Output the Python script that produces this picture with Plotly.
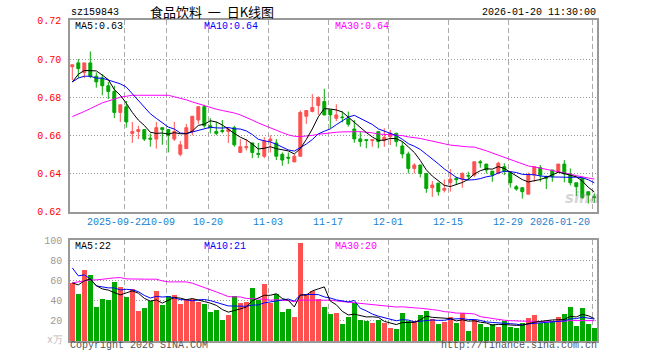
import plotly.graph_objects as go

# ---------------- data ----------------
dates = [
    "2025-09-09", "2025-09-10", "2025-09-11", "2025-09-12", "2025-09-15", "2025-09-16", "2025-09-17",
    "2025-09-18", "2025-09-19", "2025-09-22", "2025-09-23", "2025-09-24", "2025-09-25", "2025-09-26",
    "2025-09-29", "2025-09-30",
    "2025-10-09", "2025-10-10", "2025-10-13", "2025-10-14", "2025-10-15", "2025-10-16", "2025-10-17",
    "2025-10-20", "2025-10-21", "2025-10-22", "2025-10-23", "2025-10-24", "2025-10-27", "2025-10-28",
    "2025-10-29", "2025-10-30", "2025-10-31",
    "2025-11-03", "2025-11-04", "2025-11-05", "2025-11-06", "2025-11-07", "2025-11-10", "2025-11-11",
    "2025-11-12", "2025-11-13", "2025-11-14", "2025-11-17", "2025-11-18", "2025-11-19", "2025-11-20",
    "2025-11-21", "2025-11-24", "2025-11-25", "2025-11-26", "2025-11-27", "2025-11-28",
    "2025-12-01", "2025-12-02", "2025-12-03", "2025-12-04", "2025-12-05", "2025-12-08", "2025-12-09",
    "2025-12-10", "2025-12-11", "2025-12-12", "2025-12-15", "2025-12-16", "2025-12-17", "2025-12-18",
    "2025-12-19", "2025-12-22", "2025-12-23", "2025-12-24", "2025-12-25", "2025-12-26", "2025-12-29",
    "2025-12-30", "2025-12-31",
    "2026-01-05", "2026-01-06", "2026-01-07", "2026-01-08", "2026-01-09", "2026-01-12", "2026-01-13",
    "2026-01-14", "2026-01-15", "2026-01-16", "2026-01-19", "2026-01-20",
]

opens = [0.696, 0.698, 0.693, 0.698, 0.691, 0.690, 0.686, 0.683, 0.672, 0.675,
         0.661, 0.662, 0.663, 0.6585, 0.658, 0.664, 0.663, 0.658, 0.650, 0.653,
         0.662, 0.668, 0.675, 0.665, 0.662, 0.6625, 0.662, 0.664, 0.651, 0.6535,
         0.656, 0.6505, 0.649, 0.657, 0.656, 0.650, 0.6485, 0.646, 0.649, 0.670,
         0.6725, 0.6756, 0.6777, 0.6733, 0.6689, 0.6696, 0.6686, 0.6633, 0.6581, 0.6577,
         0.6572, 0.6619, 0.6572, 0.6593, 0.6611, 0.6544, 0.6502, 0.6426, 0.6444, 0.640,
         0.6325, 0.6349, 0.6312, 0.6351, 0.6374, 0.637, 0.6389, 0.6391, 0.6461, 0.6449,
         0.6412, 0.640, 0.6435, 0.6404, 0.633, 0.6325, 0.6291, 0.6391, 0.643, 0.6383,
         0.6418, 0.6409, 0.6449, 0.6397, 0.6351, 0.6374, 0.6304, 0.6277]
highs = [0.697, 0.700, 0.698, 0.704, 0.693, 0.692, 0.688, 0.686, 0.676, 0.678,
         0.667, 0.665, 0.663, 0.661, 0.667, 0.664, 0.663, 0.667, 0.657, 0.666,
         0.670, 0.675, 0.676, 0.669, 0.667, 0.668, 0.664, 0.665, 0.658, 0.658,
         0.656, 0.656, 0.659, 0.660, 0.658, 0.651, 0.651, 0.650, 0.673, 0.673,
         0.6816, 0.6804, 0.6844, 0.6733, 0.6763, 0.6725, 0.6725, 0.668, 0.6619, 0.658,
         0.658, 0.6619, 0.6637, 0.6628, 0.6611, 0.6567, 0.6514, 0.6453, 0.6444, 0.640,
         0.636, 0.6349, 0.6368, 0.6423, 0.6382, 0.6405, 0.6409, 0.6461, 0.647, 0.6449,
         0.6412, 0.6461, 0.6453, 0.6404, 0.6339, 0.6325, 0.6404, 0.6435, 0.6444, 0.6388,
         0.6418, 0.6449, 0.647, 0.6426, 0.6351, 0.6374, 0.6304, 0.6295]
lows = [0.689, 0.690, 0.690, 0.690, 0.685, 0.681, 0.679, 0.669, 0.667, 0.664,
        0.656, 0.658, 0.657, 0.654, 0.653, 0.655, 0.651, 0.657, 0.649, 0.653,
        0.660, 0.666, 0.664, 0.661, 0.660, 0.661, 0.656, 0.654, 0.651, 0.652,
        0.648, 0.648, 0.648, 0.651, 0.647, 0.644, 0.645, 0.646, 0.649, 0.666,
        0.672, 0.6707, 0.6704, 0.6637, 0.6675, 0.6668, 0.6646, 0.6561, 0.654, 0.6532,
        0.654, 0.6532, 0.654, 0.6549, 0.654, 0.6479, 0.640, 0.640, 0.6379, 0.6298,
        0.6277, 0.6283, 0.630, 0.6304, 0.6339, 0.6325, 0.6365, 0.6382, 0.643, 0.640,
        0.6356, 0.6395, 0.6391, 0.6325, 0.6309, 0.6268, 0.6291, 0.6356, 0.6356, 0.6318,
        0.6356, 0.6404, 0.6353, 0.6337, 0.6281, 0.6268, 0.6242, 0.6246]
closes = [0.697, 0.695, 0.698, 0.691, 0.688, 0.686, 0.683, 0.672, 0.676, 0.667,
          0.662, 0.663, 0.658, 0.658, 0.664, 0.663, 0.660, 0.662, 0.655, 0.664,
          0.670, 0.675, 0.665, 0.664, 0.661, 0.662, 0.663, 0.655, 0.654, 0.654,
          0.651, 0.650, 0.657, 0.658, 0.649, 0.647, 0.648, 0.649, 0.672, 0.673,
          0.6746, 0.6798, 0.6707, 0.6707, 0.6707, 0.6693, 0.6658, 0.6581, 0.6567, 0.6573,
          0.6577, 0.6567, 0.659, 0.6611, 0.6567, 0.6502, 0.6426, 0.6444, 0.640, 0.6321,
          0.6339, 0.6304, 0.6321, 0.637, 0.6367, 0.640, 0.6386, 0.6461, 0.6456, 0.6418,
          0.6391, 0.6453, 0.6412, 0.6351, 0.6318, 0.6304, 0.6391, 0.6435, 0.6391, 0.6374,
          0.6383, 0.6449, 0.6397, 0.6351, 0.633, 0.6272, 0.6286, 0.6274]
volumes = [58, 47, 71, 66, 34, 42, 41, 59, 54, 44,
           52, 30, 33, 40, 50, 36, 45, 46, 37, 42,
           42, 39, 37, 29, 31, 21, 26, 45, 38, 39,
           53, 41, 57, 38, 47, 29, 32, 24, 98, 46,
           50, 42, 34, 27, 28, 17, 24, 38, 21, 20,
           18, 21, 18, 13, 12, 28, 20, 20, 26, 30,
           22, 17, 19, 24, 18, 28, 10, 21, 17, 14,
           17, 14, 20, 14, 13, 18, 23, 26, 18, 18,
           20, 24, 27, 34, 15, 33, 17, 13]

# moving-average values before enough history is visible
ma5_head = [0.688, 0.692, 0.694, 0.694]
ma10_head = [0.688, 0.690, 0.691, 0.691, 0.690, 0.690, 0.689, 0.688, 0.687]
ma30_head = [0.6698, 0.671, 0.6725, 0.674, 0.6755, 0.677, 0.678, 0.679, 0.680, 0.6805,
             0.681, 0.681, 0.681, 0.681, 0.681, 0.681, 0.681, 0.6802, 0.6795, 0.6786,
             0.6775, 0.6765, 0.6755, 0.6745, 0.6737, 0.673, 0.6724, 0.6717, 0.6707]
vma5_head = [58, 56, 60, 62]
vma10_head = [73, 65, 66, 62, 55, 54, 53, 53, 51]
vma30_head = [58, 59, 60, 61, 61, 62, 62.3, 63, 63.3, 62,
              61.7, 61.7, 61.7, 61.7, 61.7, 60, 59, 59, 59, 59,
              57.7, 55.7, 53.3, 51, 49, 46.7, 44.3, 44, 44]

tick_dates = ["2025-09-22", "2025-10-09", "2025-10-20", "2025-11-03", "2025-11-17",
              "2025-12-01", "2025-12-15", "2025-12-29", "2026-01-20"]
tick_labels = ["2025-09-22", "10-09", "10-20", "11-03", "11-17", "12-01", "12-15", "12-29", "2026-01-20"]

price_ticks = [0.62, 0.64, 0.66, 0.68, 0.70, 0.72]
vol_ticks = [20, 40, 60, 80, 100]

code = "sz159843"
title = "食品饮料\u00a0 一\u00a0 日K线图"
stamp = "2026-01-20 11:30:00"
ma_price_text = ["MA5:0.63", "MA10:0.64", "MA30:0.64"]
ma_vol_text = ["MA5:22", "MA10:21", "MA30:20"]


# ---------------- helpers ----------------
def rolling(vals, n, head):
    out = list(head)
    for i in range(n - 1, len(vals)):
        out.append(sum(vals[i - n + 1:i + 1]) / n)
    return out


idx = list(range(len(dates)))
ma5 = rolling(closes, 5, ma5_head)
ma10 = rolling(closes, 10, ma10_head)
ma30 = rolling(closes, 30, ma30_head)
vma5 = rolling(volumes, 5, vma5_head)
vma10 = rolling(volumes, 10, vma10_head)
vma30 = rolling(volumes, 30, vma30_head)

RED = "#ff5050"
GREEN = "#00a800"
MONO = "Liberation Mono, DejaVu Sans Mono, monospace"
vol_colors = [RED if c > o else GREEN for o, c in zip(opens, closes)]
tick_pos = [dates.index(d) - 1 / 3 for d in tick_dates]

# pixel geometry of the plot area (window coordinates; page body margin is removed below)
L, R, T, B = 70, 597, 20, 341
W, H = R - L, B - T


def pxx(x):
    return (x - L) / W


def pxy(y):
    return (B - y) / H


fig = go.Figure()
fig.add_trace(go.Candlestick(
    x=idx, open=opens, high=highs, low=lows, close=closes,
    increasing=dict(line=dict(color=RED, width=1), fillcolor=RED),
    decreasing=dict(line=dict(color=GREEN, width=1), fillcolor=GREEN),
    whiskerwidth=0, xaxis="x", yaxis="y", showlegend=False, hoverinfo="skip"))
for vals, col in [(ma30, "#ff00ff"), (ma10, "#0000ff"), (ma5, "#000000")]:
    fig.add_trace(go.Scatter(x=idx, y=vals, mode="lines", line=dict(color=col, width=1),
                             xaxis="x", yaxis="y", showlegend=False, hoverinfo="skip"))
fig.add_trace(go.Bar(x=idx, y=volumes, marker=dict(color=vol_colors, line=dict(width=0)),
                     width=0.83, xaxis="x2", yaxis="y2", showlegend=False, hoverinfo="skip"))
for vals, col in [(vma30, "#ff00ff"), (vma10, "#0000ff"), (vma5, "#000000")]:
    fig.add_trace(go.Scatter(x=idx, y=vals, mode="lines", line=dict(color=col, width=1),
                             xaxis="x2", yaxis="y2", showlegend=False, hoverinfo="skip"))

xr = [-(72.3 - L) / 6, (R - 72.3) / 6]
top_dom = [pxy(211.7), 1]
bot_dom = [0, pxy(240.3)]
xcommon = dict(range=xr, tickvals=tick_pos, showticklabels=False, ticks="",
               showgrid=True, gridcolor="#aaaaaa", griddash="5px,3px", gridwidth=1,
               showline=True, mirror=True, linecolor="#999999", linewidth=1.5,
               zeroline=False, rangeslider=dict(visible=False), fixedrange=True)
fig.update_layout(
    width=660, height=360,
    margin=dict(l=L, r=660 - R, t=T, b=360 - B),
    paper_bgcolor="white", plot_bgcolor="white",
    showlegend=False, bargap=0,
    xaxis=dict(domain=[0, 1], anchor="y", **xcommon),
    xaxis2=dict(domain=[0, 1], anchor="y2", matches="x", **xcommon),
    yaxis=dict(domain=top_dom, anchor="x", range=[0.6199, 0.7205],
               tickvals=price_ticks, ticktext=[f"{v:.2f}" for v in price_ticks],
               tickfont=dict(family=MONO, size=10, color="#ff0000"), ticks="",
               ticklabelstandoff=5,
               showgrid=True, gridcolor="#999999", griddash="1px,2px", gridwidth=1,
               showline=True, mirror=True, linecolor="#999999", linewidth=1.5,
               zeroline=False, fixedrange=True),
    yaxis2=dict(domain=bot_dom, anchor="x2", range=[0, 100.5],
                tickvals=vol_ticks, ticktext=[str(v) for v in vol_ticks],
                tickfont=dict(family=MONO, size=10, color="#999999"), ticks="",
                ticklabelstandoff=4,
                showgrid=True, gridcolor="#999999", griddash="1px,2px", gridwidth=1,
                showline=True, mirror=True, linecolor="#999999", linewidth=1.5,
                zeroline=False, fixedrange=True),
)

ann = []


def text(x, y, s, color="#000000", anchor="left", size=10, family=MONO):
    ann.append(dict(x=pxx(x), y=pxy(y), xref="paper", yref="paper", text=s, showarrow=False,
                    xanchor=anchor, yanchor="middle", borderpad=0,
                    font=dict(family=family, size=size, color=color)))


text(70, 12.5, code)
text(149, 11.5, title, size=13, family="Noto Sans CJK SC")
text(597, 12.5, stamp, anchor="right")
text(74, 26.5, ma_price_text[0], "#000000")
text(203, 26.5, ma_price_text[1], "#0000ff")
text(334, 26.5, ma_price_text[2], "#ff00ff")
text(74, 246, ma_vol_text[0], "#000000")
text(203, 246, ma_vol_text[1], "#0000ff")
text(334, 246, ma_vol_text[2], "#ff00ff")
text(69, 346, "Copyright 2026 SINA.COM", "#555555")
text(598, 346, "http://finance.sina.com.cn", "#555555", anchor="right")
text(64, 340, "x万", "#bbbbbb", anchor="right")
ann.append(dict(x=pxx(582), y=pxy(198), xref="paper", yref="paper", text="<b><i>sina</i></b>",
                showarrow=False, xanchor="center", yanchor="middle", opacity=0.35,
                font=dict(family="DejaVu Sans", size=15, color="#888888")))

shifts = {0: -7.6, 1: -6}
for i, (p, lab) in enumerate(zip(tick_pos, tick_labels)):
    last = i == len(tick_labels) - 1
    ann.append(dict(x=p, y=pxy(222), xref="x", yref="paper", text=lab, showarrow=False,
                    xanchor="right" if last else "center", yanchor="middle",
                    xshift=shifts.get(i, 0),
                    font=dict(family=MONO, size=10, color="#1a7fd0")))

fig.update_layout(annotations=ann)
fig.write_html("out.html", config={"displayModeBar": False},
               post_script="document.body.style.margin='0';")
